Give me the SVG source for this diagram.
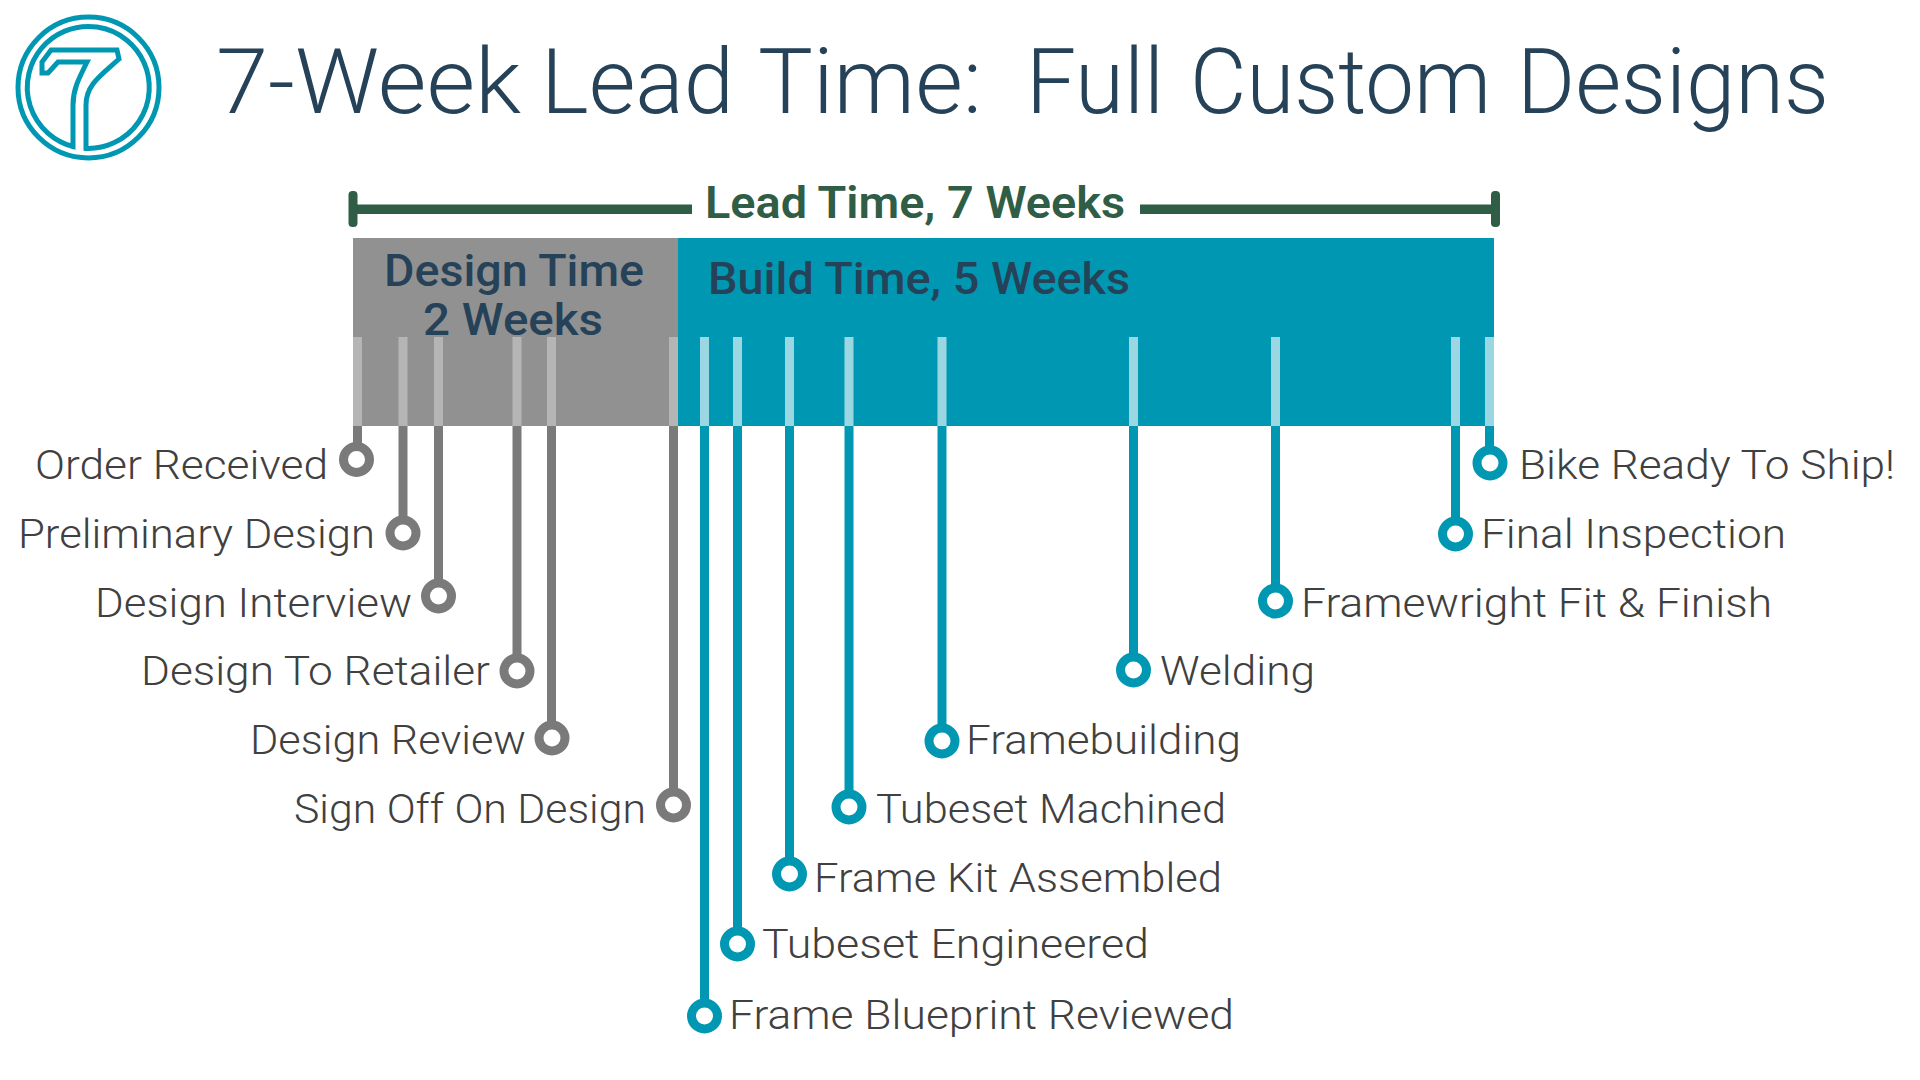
<svg xmlns="http://www.w3.org/2000/svg" width="1920" height="1080" viewBox="0 0 1920 1080">
<style>
text{white-space:pre}
.lb{font-family:Roboto,"Liberation Sans",sans-serif;font-size:41px;font-weight:350;fill:#404040}
.hd{font-family:Roboto,"Liberation Sans",sans-serif;font-size:44px;font-weight:500;fill:#264258}
.g{stroke:#7a7a7a}.b{stroke:#0097b2}
.ln{stroke-width:9;fill:none}
.dot{stroke-width:9;fill:#fff}
.tg{fill:#b5b5b5}.tb{fill:#9bd7e2}
</style>
<rect width="1920" height="1080" fill="#fff"/>
<g id="logo" fill="none" stroke="#0097b2" stroke-width="5">
<circle cx="88.5" cy="87.500" r="70.5"/>
<path d="M86 148.400A61 61 0 1 0 73 146.500V105C73 90 78 80 87 62H58L48 73H42V62L51 50H117L119 59C100 76 86 85 86 105Z"/>
</g>
<text id="title" y="113" style="font-family:Roboto,sans-serif;font-size:91px;font-weight:350;fill:#264258" lengthAdjust="spacingAndGlyphs"><tspan x="216" textLength="305" lengthAdjust="spacingAndGlyphs">7-Week</tspan> <tspan x="541" textLength="193" lengthAdjust="spacingAndGlyphs">Lead</tspan> <tspan x="758" textLength="224" lengthAdjust="spacingAndGlyphs">Time:</tspan>  <tspan x="1026" textLength="138" lengthAdjust="spacingAndGlyphs">Full</tspan> <tspan x="1190" textLength="301" lengthAdjust="spacingAndGlyphs">Custom</tspan> <tspan x="1517" textLength="312" lengthAdjust="spacingAndGlyphs">Designs</tspan></text>
<g id="lead" fill="#2f5d45">
<rect x="353" y="204.500" width="339" height="9.500"/><rect x="1140" y="204.500" width="356" height="9.500"/>
<rect x="348.500" y="191" width="9" height="36" rx="4"/><rect x="1491" y="191" width="9" height="36" rx="4"/>
<text x="705" y="218" textLength="420" lengthAdjust="spacingAndGlyphs" style="font-family:Roboto,sans-serif;font-size:45px;font-weight:600">Lead Time, 7 Weeks</text>
</g>
<g id="bar-design"><rect x="353" y="238" width="325" height="188" fill="#919191"/>
<text class="hd" x="384" y="286" textLength="260" lengthAdjust="spacingAndGlyphs">Design Time</text><text class="hd" x="423" y="335" textLength="180" lengthAdjust="spacingAndGlyphs">2 Weeks</text></g>
<g id="bar-build"><rect x="678" y="238" width="816" height="188" fill="#0097b2"/>
<text class="hd" x="708" y="294" textLength="422" lengthAdjust="spacingAndGlyphs">Build Time, 5 Weeks</text></g>
<g id="ticks">
<g class="tg"><rect x="353" y="337" width="9" height="89"/><rect x="398.500" y="337" width="9" height="89"/><rect x="434" y="337" width="9" height="89"/><rect x="512.500" y="337" width="9" height="89"/><rect x="547" y="337" width="9" height="89"/><rect x="669" y="337" width="9" height="89"/></g>
<g class="tb"><rect x="700" y="337" width="9" height="89"/><rect x="733" y="337" width="9" height="89"/><rect x="785" y="337" width="9" height="89"/><rect x="844.500" y="337" width="9" height="89"/><rect x="937.500" y="337" width="9" height="89"/><rect x="1129" y="337" width="9" height="89"/><rect x="1271" y="337" width="9" height="89"/><rect x="1451" y="337" width="9" height="89"/><rect x="1485" y="337" width="9" height="89"/></g>
</g>
<g id="connectors" class="ln">
<path class="g" d="M357.500 426V446M403 426V520M438.500 426V583M517 426V658M551.500 426V725M673.500 426V792"/>
<path class="b" d="M704.500 426V1003M737.500 426V931M789.500 426V861M849 426V794M942 426V728M1133.500 426V657M1275.500 426V588M1455.500 426V521M1489.500 426V450"/>
</g>
<g id="n1"><circle class="g dot" cx="356.500" cy="459.500" r="13"/><text class="lb" x="35" y="479" textLength="293" lengthAdjust="spacingAndGlyphs">Order Received</text></g>
<g id="n2"><circle class="g dot" cx="403" cy="533" r="13"/><text class="lb" x="18" y="548" textLength="357" lengthAdjust="spacingAndGlyphs">Preliminary Design</text></g>
<g id="n3"><circle class="g dot" cx="438.500" cy="596" r="13"/><text class="lb" x="95" y="617" textLength="317" lengthAdjust="spacingAndGlyphs">Design Interview</text></g>
<g id="n4"><circle class="g dot" cx="517" cy="671" r="13"/><text class="lb" x="141" y="685" textLength="349" lengthAdjust="spacingAndGlyphs">Design To Retailer</text></g>
<g id="n5"><circle class="g dot" cx="552" cy="738" r="13"/><text class="lb" x="250" y="754" textLength="276" lengthAdjust="spacingAndGlyphs">Design Review</text></g>
<g id="n6"><circle class="g dot" cx="673.500" cy="805" r="13"/><text class="lb" x="294" y="823" textLength="352" lengthAdjust="spacingAndGlyphs">Sign Off On Design</text></g>
<g id="n7"><circle class="b dot" cx="704.500" cy="1016" r="13"/><text class="lb" x="729" y="1029" textLength="505" lengthAdjust="spacingAndGlyphs">Frame Blueprint Reviewed</text></g>
<g id="n8"><circle class="b dot" cx="737.500" cy="944" r="13"/><text class="lb" x="762" y="958" textLength="387" lengthAdjust="spacingAndGlyphs">Tubeset Engineered</text></g>
<g id="n9"><circle class="b dot" cx="789.500" cy="874" r="13"/><text class="lb" x="814" y="892" textLength="408" lengthAdjust="spacingAndGlyphs">Frame Kit Assembled</text></g>
<g id="n10"><circle class="b dot" cx="849" cy="807" r="13"/><text class="lb" x="876" y="823" textLength="350" lengthAdjust="spacingAndGlyphs">Tubeset Machined</text></g>
<g id="n11"><circle class="b dot" cx="942" cy="741" r="13"/><text class="lb" x="966" y="754" textLength="275" lengthAdjust="spacingAndGlyphs">Framebuilding</text></g>
<g id="n12"><circle class="b dot" cx="1133.500" cy="670" r="13"/><text class="lb" x="1160" y="685" textLength="155" lengthAdjust="spacingAndGlyphs">Welding</text></g>
<g id="n13"><circle class="b dot" cx="1275.500" cy="601" r="13"/><text class="lb" x="1301" y="617" textLength="471" lengthAdjust="spacingAndGlyphs">Framewright Fit &amp; Finish</text></g>
<g id="n14"><circle class="b dot" cx="1455.500" cy="534" r="13"/><text class="lb" x="1481" y="548" textLength="305" lengthAdjust="spacingAndGlyphs">Final Inspection</text></g>
<g id="n15"><circle class="b dot" cx="1490" cy="463" r="13"/><text class="lb" x="1519" y="479" textLength="376" lengthAdjust="spacingAndGlyphs">Bike Ready To Ship!</text></g>
</svg>
